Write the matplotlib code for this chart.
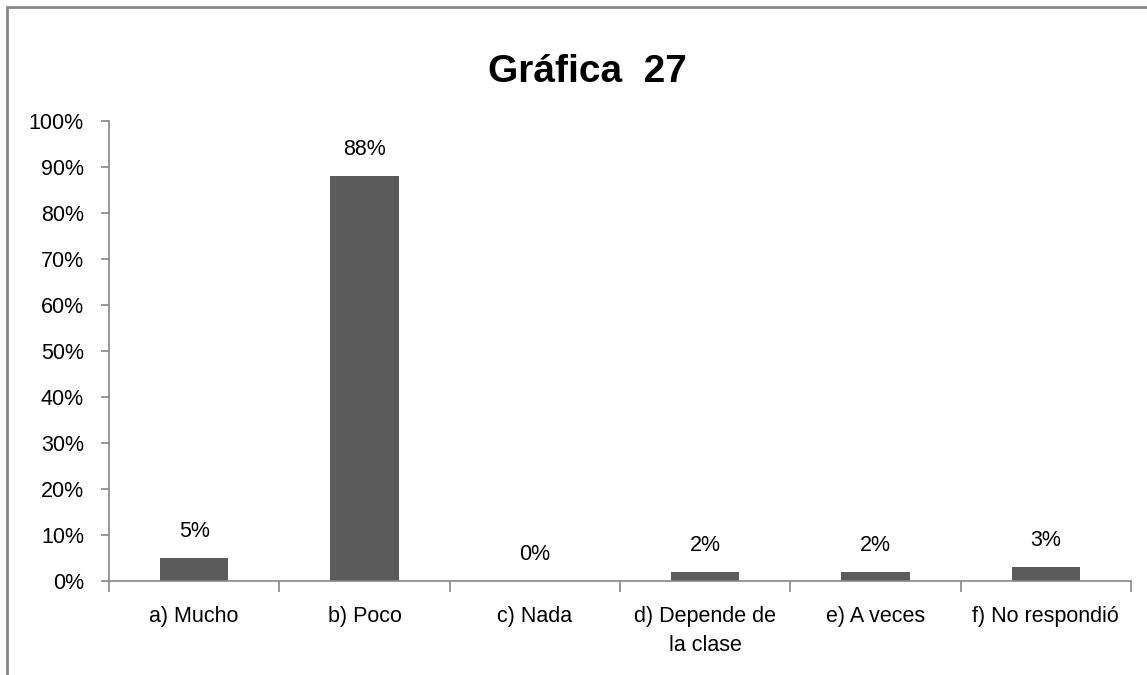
import matplotlib.pyplot as plt
from matplotlib.patches import Rectangle
import numpy as np

plt.rcParams['font.family'] = ['Liberation Sans', 'DejaVu Sans']

categorias = ['a) Mucho', 'b) Poco', 'c) Nada', 'd) Depende de\nla clase',
              'e) A veces', 'f) No respondió']
valores = [5, 88, 0, 2, 2, 3]
yticks = [0, 10, 20, 30, 40, 50, 60, 70, 80, 90, 100]
titulo = 'Gráfica  27'

gris = '#868686'

fig = plt.figure(figsize=(11.47, 6.75), dpi=100)
ax = fig.add_axes([0.095, 0.139, 0.891, 0.682])

x = np.arange(len(categorias))
barras = ax.bar(x, valores, width=0.4, color='#5b5b5b')

# etiquetas de valor sobre cada barra
for xi, v in zip(x, valores):
    ax.annotate(f'{v}%', (xi, v), xytext=(0, 19), textcoords='offset points',
                ha='center', va='center', fontsize=15.5)

ax.set_xlim(-0.5, len(categorias) - 0.5)
ax.set_ylim(0, 100)
ax.set_yticks(yticks)
ax.set_yticklabels([f'{t}%' for t in yticks], fontsize=15.5)
ax.set_xticks(x)
ax.set_xticklabels(categorias, fontsize=15.5, linespacing=1.5)
ax.set_xticks(np.arange(len(categorias) + 1) - 0.5, minor=True)
ax.tick_params(axis='x', which='major', length=0, pad=18)
ax.tick_params(axis='x', which='minor', length=8, color=gris, width=1.2)
ax.tick_params(axis='y', length=6, color=gris, width=1.2, pad=12)

for s in ['top', 'right']:
    ax.spines[s].set_visible(False)
for s in ['left', 'bottom']:
    ax.spines[s].set_color(gris)
    ax.spines[s].set_linewidth(1.2)

fig.text(0.512, 0.893, titulo, ha='center', va='center', fontsize=28,
         fontweight='bold')

borde = Rectangle((7 / 1147, -0.1), 1.2, 1.1 - 7 / 675, transform=fig.transFigure,
                  fill=False, edgecolor=gris, linewidth=2)
fig.add_artist(borde)

fig.savefig('out.png', dpi=100)
